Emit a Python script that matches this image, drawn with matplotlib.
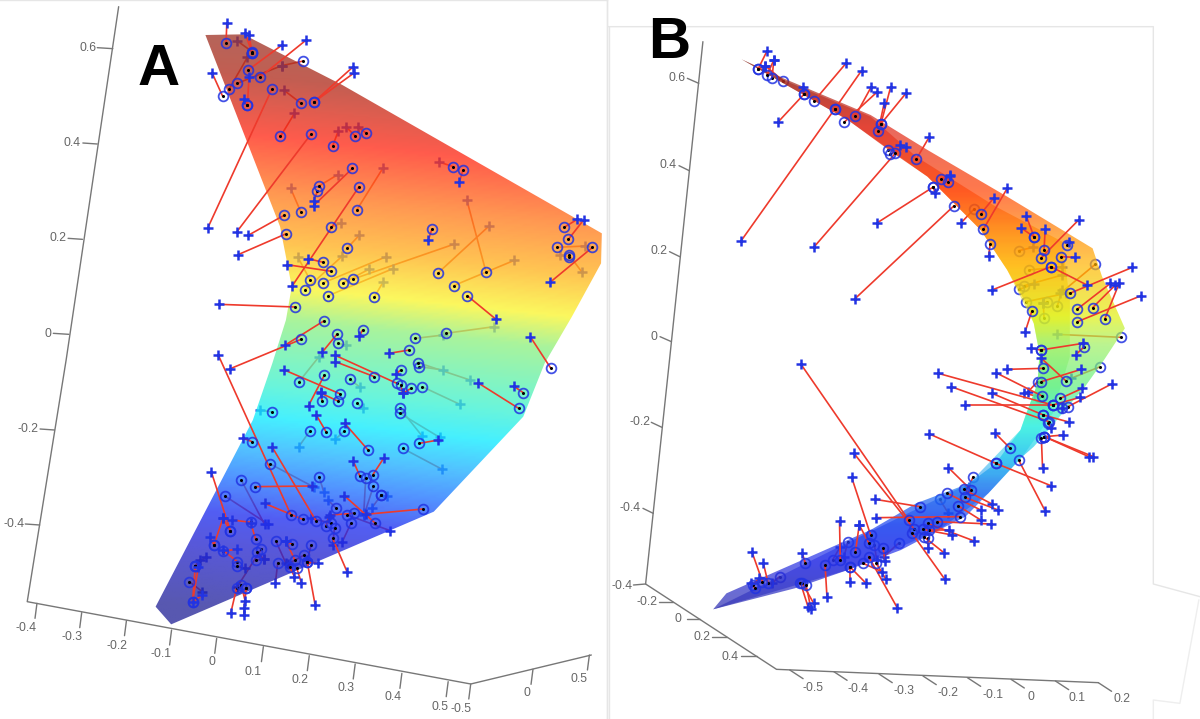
import numpy as np
import matplotlib
matplotlib.use('Agg')
import matplotlib.pyplot as plt
from matplotlib.colors import LinearSegmentedColormap
from matplotlib.patches import Polygon

plt.rcParams['font.family'] = ['Liberation Sans', 'DejaVu Sans']

# units: x 0..1568 across a panel, y 0..2157 down the picture
# every row is circle x, circle y, plus x, plus y
a_front = [(581,130,583,70),(648,158,630,100),(648,158,640,106),(638,210,725,135),(668,232,787,120),
    (572,288,545,218),(636,316,628,298),(636,316,640,230),(699,267,534,684),(806,307,908,200),
    (806,307,911,218),(799,403,609,695),(906,505,806,617),(816,574,806,603),(923,560,751,858),
    (730,646,638,706),(734,702,612,764),(831,787,792,776),(852,814,738,794),(1190,510,1181,545),
    (1110,688,1101,721),(1201,887,1274,957),(759,921,563,913),(832,963,732,1036),(774,1018,590,1107),
    (866,1003,828,1057),(932,990,924,1008),(1052,1050,1000,1060),(1450,682,1484,658),(1461,718,1500,660),
    (1523,742,1415,846),(1416,1105,1363,1010)]
a_behind = [(648,155,609,122),(780,183,724,197),(610,250,724,197),(589,267,636,172),(774,310,729,270),
    (721,409,757,340),(855,438,870,392),(913,408,889,380),(942,400,919,380),(820,558,868,524),
    (917,630,985,503),(773,635,747,565),(851,682,876,670),(892,745,924,705),(797,840,765,770),
    (784,870,880,768),(830,849,993,770),(881,849,948,808),(908,837,1166,733),(842,888,1010,806),
    (962,891,985,846),(1165,500,1129,486),(1125,820,1258,677),(1249,815,1200,600),(1166,857,1322,781),
    (868,1030,890,1035),(1146,1000,1270,980),(1068,1015,1140,1005),(1432,742,1505,738),
    (1463,765,1495,815),(1463,770,1440,765)]
a_front_low = [(748,465,561,-15),(834,45,793,137),(875,102,731,30),(962,50,862,5),(1030,30,1018,42),
    (1020,70,860,-15),(1057,85,1035,100),(1030,75,1035,100),(1333,145,1228,68),(1345,98,1320,78),
    (828,122,825,97),(870,124,826,100),(1078,250,1127,240),(838,215,813,165),(946,270,886,190),
    (648,245,625,235),(812,482,700,262),(778,478,680,430),(655,380,803,378),(592,512,543,335),
    (925,348,908,303),(958,345,986,295),(1087,447,940,463),(965,490,885,407),(910,460,848,465),
    (838,497,845,470),(855,535,892,635),(645,487,597,480),(592,512,573,475),(550,555,573,475),
    (573,573,610,568),(550,555,540,530),(657,538,645,490),(610,605,573,570),(502,617,495,725),
    (495,725,520,705),(495,725,510,620),(608,685,593,760),(620,675,630,722),(632,685,627,765),
    (632,685,628,743),(750,552,735,543),(758,600,735,543),(745,622,757,650),(763,625,775,670),
    (790,607,810,735),(790,607,818,610)]
a_behind_low = [(768,66,820,-10),(899,58,926,82),(1085,80,1182,133),(1078,20,1140,30),(1075,8,1208,60),
    (918,130,932,145),(699,156,668,150),(1028,145,1085,228),(1028,160,1130,232),(1035,265,1135,327),
    (884,214,862,238),(797,212,768,260),(695,312,808,382),(820,350,832,395),(620,360,680,493),
    (578,408,690,493),(960,378,936,465),(980,405,955,445),(980,405,995,408),(940,355,935,460),
    (864,445,843,420),(893,465,1003,512),(902,490,880,545),(852,490,800,475),(860,503,855,555),
    (672,567,610,680),(660,575,678,598),(658,600,678,598),(610,618,630,625),(502,617,530,590),
    (502,617,515,600),(487,665,520,695),(709,543,735,610),(714,608,708,668),(782,585,740,612),
    (800,555,790,600)]

b_front = [(403,208,427,153),(403,208,422,197),(440,235,445,180),(427,225,445,180),(524,283,522,262),
    (524,283,457,365),(551,303,635,190),(606,326,359,722),(606,326,676,212),(660,347,702,260),
    (630,367,718,275),(727,372,753,260),(727,372,793,280),(720,393,736,308),(745,450,778,435),
    (752,462,793,440),(765,460,550,742),(820,478,855,410),(885,537,910,525),(903,547,910,528),
    (865,561,718,668),(865,561,870,580),(920,617,659,896),(997,688,1060,565),(990,642,1025,593),
    (1015,733,1011,767),(1131,711,1110,648),(1131,711,1097,684),(1157,750,1160,688),(1148,775,1248,660),
    (1218,735,1222,725),(1202,770,1238,772),(1175,800,1020,870),(1175,800,1270,855),(1125,933,1107,996),
    (1245,927,1332,850),(1285,923,1345,855),(1317,957,1355,850),(1245,965,1413,887),(1225,880,1390,802),
    (1263,1040,1240,1065),(1148,1050,1260,1030),(1148,1050,1123,1045)]
b_behind = [(470,243,422,197),(972,628,937,670),(1090,752,1128,742),(1292,793,1200,880),(1118,810,1205,800),
    (1105,857,1205,825),(1092,868,1130,852),(1110,905,1215,880),(1165,907,1155,908),(1192,918,1205,870),
    (1157,955,1155,910),(1360,1012,1190,1003)]
b_front_low = [(1155,25,1060,28),(1215,63,1150,-5),(1150,65,1255,28),(1152,108,1030,38),(1180,135,878,40),
    (1180,135,1252,112),(1220,140,1335,72),(1180,135,950,135),(1170,185,912,80),(1155,165,1020,100),
    (1155,165,1222,186),(1200,115,1258,85),(1205,145,1205,145),(1168,190,1175,205),(1158,230,1208,225),
    (1158,230,1275,290),(1158,230,1287,290),(1150,235,1153,323),(1068,265,1027,218),(1090,300,1160,453),
    (1030,310,855,222),(1030,310,1175,377),(965,390,905,323),(945,388,1020,432),(902,400,990,450),
    (948,412,1036,450),(930,437,990,480),(830,440,712,418),(935,470,715,473),(875,485,1016,492),
    (850,490,973,543),(800,480,516,12),(815,508,656,280),(808,518,895,657),(850,535,850,563),
    (840,530,893,578),(855,510,907,510),(837,508,915,525),(700,525,650,352),(695,548,670,495),
    (733,565,738,603),(620,600,618,483),(660,575,670,495),(645,620,645,665),(645,620,688,670),
    (680,610,730,635),(695,590,770,743),(715,610,740,657),(580,615,585,712),(528,610,520,580),
    (515,668,535,740),(520,670,550,730),(530,675,543,748),(430,670,417,608),(415,665,387,575),
    (390,675,405,655),(395,685,385,668)]
b_behind_low = [(1305,20,1228,55),(1140,65,1115,95),(1145,110,1105,100),(970,350,960,380),(882,418,905,460),
    (775,548,735,590),(710,555,716,600),(640,545,630,590),(600,600,620,560),(460,650,440,670)]

a_outline = [(528,105),(625,103),(880,255),(1547,700),(1545,790),(1470,950),(1400,1090),(1345,1250),
    (1115,1535),(440,1873),(400,1820),(650,1260),(700,1090),(735,960),(750,860),(720,680)]
b_outline = [(360,178),(470,235),(700,345),(850,450),(1060,590),(1285,745),(1310,830),(1370,985),(1315,1080),
    (1265,1160),(1220,1220),(1165,1295),(1130,1340),(1095,1375),(1010,1480),(950,1550),(880,1590),
    (780,1650),(640,1710),(500,1765),(285,1828),(320,1780),(600,1640),(700,1590),(820,1510),(960,1450),
    (1030,1390),(1065,1335),(1095,1290),(1110,1240),(1140,1150),(1145,1060),(1130,970),(1110,910),
    (1060,810),(990,690),(850,530),(760,460),(640,360),(470,250)]
b_fold = [(360,178),(470,240),(700,350),(820,470),(1030,620),(1205,725),(1225,900),(1225,1070),(1180,1240),
    (1100,1370),(1010,1480),(880,1590),(640,1710),(285,1828),(600,1650),(960,1450),(1095,1290),(1140,1150),
    (1145,1060),(1130,970),(1060,810),(990,690),(850,530),(640,360)]

a_stops = [(105,'#9c3a2e'),(250,'#b03020'),(430,'#ff2c18'),(600,'#ff7a20'),(750,'#ffb420'),(880,'#fbf630'),
    (980,'#90f080'),(1180,'#40f2d0'),(1280,'#10ecff'),(1380,'#20b0ff'),(1480,'#2070ff'),(1580,'#2030f0'),
    (1680,'#2828d0'),(1873,'#28289a')]
b_stops = [(178,'#8c2a20'),(380,'#e02818'),(570,'#ff4000'),(700,'#ff8800'),(800,'#ffb800'),(950,'#e0f010'),
    (1030,'#a0f060'),(1160,'#60f080'),(1280,'#30f0e0'),(1380,'#20c0f0'),(1480,'#2070f0'),(1580,'#1840f0'),
    (1680,'#2830e8'),(1828,'#2c2cb0')]

a_z_ticks = [(250,290,143,'0.6',225,143),(213,250,429,'0.4',186,430),(175,212,715,'0.2',148,715),
    (137,177,1000,'0',122,1002),(103,140,1287,'-0.2',72,1287),(65,102,1572,'-0.4',35,1571)]
a_x_ticks = [(95,1810,'-0.4',68,1885),(210,1838,'-0.3',185,1912),(325,1862,'-0.2',300,1937),
    (441,1890,'-0.1',415,1962),(557,1915,'0',545,1987),(677,1940,'0.1',650,2015),(795,1967,'0.2',770,2040),
    (913,1992,'0.3',890,2065),(1033,2020,'0.4',1010,2092),(1152,2045,'0.5',1130,2120)]
a_y_ticks = [(1210,2052,'-0.5',1185,2127),(1370,2008,'0',1355,2080),(1515,1965,'0.5',1488,2038)]
b_z_ticks = [(217,247,235,'0.6',190,235),(195,222,497,'0.4',167,495),(170,197,755,'0.2',143,753),
    (145,175,1010,'0',130,1012),(122,150,1267,'-0.2',93,1267),(100,127,1525,'-0.4',67,1525)]
b_y_ticks = [(180,143,1805,'-0.2',110,1807),(250,215,1857,'0',193,1858),(322,283,1910,'0.2',255,1912),
    (400,358,1968,'0.4',330,1970)]
b_x_ticks = [(487,2010,'-0.5',547,2063),(603,2015,'-0.4',667,2068),(722,2022,'-0.3',787,2072),
    (838,2028,'-0.2',905,2080),(955,2033,'-0.1',1022,2085),(1070,2038,'0',1122,2090),(1187,2043,'0.1',1245,2095),
    (1300,2048,'0.2',1362,2098)]

RED = '#ee3a2c'
BLUE = '#2233e2'
GREY = '#777777'
TXT = '#666666'


def shifted(rows):
    return [(a, b + 1080, c, d + 1080) for a, b, c, d in rows]


def draw_pairs(ax, rows, z, lw=1.2, with_circles=False):
    for cx, cy, px, py in rows:
        ax.plot([cx, px], [cy, py], color=RED, lw=lw, zorder=z, solid_capstyle='round')
        ax.plot(px, py, '+', color=BLUE, ms=7, mew=1.8, zorder=z + 0.3)
        if with_circles:
            draw_circle(ax, cx, cy, z + 0.2)


def draw_circle(ax, cx, cy, z):
    ax.plot(cx, cy, 'o', mfc='none', mec=BLUE, ms=7, mew=1.3, alpha=0.85, zorder=z)
    ax.plot(cx, cy, 'o', color='black', ms=1.2, zorder=z)


def surface(ax, outline, stops, tilt, alpha, z):
    ymin, ymax = stops[0][0], stops[-1][0]
    cmap = LinearSegmentedColormap.from_list('surf', [((y - ymin) / (ymax - ymin), c) for y, c in stops])
    xs = np.linspace(0, 1568, 200)
    ys = np.linspace(0, 2157, 400)
    X, Y = np.meshgrid(xs, ys)
    V = Y - tilt * (X - 900)
    im = ax.imshow(V, extent=(0, 1568, 2157, 0), cmap=cmap, vmin=ymin, vmax=ymax, alpha=alpha,
                   aspect='auto', zorder=z, interpolation='bilinear')
    clip = Polygon(outline, closed=True, transform=ax.transData, fc='none', ec='none')
    ax.add_patch(clip)
    im.set_clip_path(clip)


def panel(rect):
    ax = fig.add_axes(rect)
    ax.set_axis_off()
    ax.patch.set_alpha(0)
    ax.set_xlim(0, 1568)
    ax.set_ylim(2157, 0)
    return ax


def axis_line(ax, xs, ys):
    ax.plot(xs, ys, color=GREY, lw=1.0, zorder=1, solid_capstyle='round')


def label(ax, x, y, s):
    ax.text(x, y, s, fontsize=8.8, color=TXT, ha='center', va='center', zorder=1)


fig = plt.figure(figsize=(12, 7.19), dpi=100)

# panel A
ax = panel([0, 0, 610 / 1200, 1])
axis_line(ax, [305, 170, 70, 1210, 1520], [20, 1080, 1805, 2052, 1965])
for x0, x1, y, s, tx, ty in a_z_ticks:
    axis_line(ax, [x0, x1], [y, y + 3])
    label(ax, tx, ty, s)
for x, y, s, tx, ty in a_x_ticks + a_y_ticks:
    axis_line(ax, [x, x - 5], [y, y + 45])
    label(ax, tx, ty, s)
ax.plot([1560, 1560], [0, 2157], color='#e6e6e6', lw=1, zorder=1)
ax.plot([0, 1560], [1, 1], color='#e6e6e6', lw=1, zorder=1)
draw_pairs(ax, a_behind + shifted(a_behind_low), 2)
surface(ax, a_outline, a_stops, 0.12, 0.78, 3)
draw_pairs(ax, a_front + shifted(a_front_low), 4)
for cx, cy, px, py in a_front + shifted(a_front_low) + a_behind + shifted(a_behind_low):
    draw_circle(ax, cx, cy, 4.2)
ax.text(408, 210, 'A', fontsize=42, fontweight='bold', color='black', ha='center', va='center', zorder=6)

# panel B
ax = panel([605 / 1200, 0, 595 / 1200, 1])
ax.plot([10, 1445, 1445, 1568], [80, 80, 1752, 1790], color='#e6e6e6', lw=1, zorder=1)
ax.plot([1565, 1515, 1445, 1445], [1800, 2110, 2100, 2157], color='#eeeeee', lw=1, zorder=1)
ax.plot([10, 10], [80, 2157], color='#e6e6e6', lw=1, zorder=1)
ax.plot([5, 5], [0, 2157], color='#e6e6e6', lw=1, zorder=1)
axis_line(ax, [258, 170, 107, 452, 1300], [125, 1080, 1752, 2008, 2048])
for x0, x1, y, s, tx, ty in b_z_ticks:
    axis_line(ax, [x0, x1], [y, y + 15])
    label(ax, tx, ty, s)
for x, x1, y, s, tx, ty in b_y_ticks:
    axis_line(ax, [x, x1], [y, y])
    label(ax, tx, ty, s)
axis_line(ax, [75, 107], [1755, 1752])
label(ax, 45, 1757, '-0.4')
for x, y, s, tx, ty in b_x_ticks:
    axis_line(ax, [x, x + 35], [y, y + 26])
    label(ax, tx, ty, s)
hidden = b_behind + shifted(b_behind_low)
draw_pairs(ax, hidden, 2, with_circles=True)
surface(ax, b_outline, b_stops, 0.0, 0.7, 3)
surface(ax, b_fold, b_stops, 0.0, 0.55, 3.1)
shown = b_front + shifted(b_front_low)
draw_pairs(ax, shown, 4)
for cx, cy, px, py in shown:
    draw_circle(ax, cx, cy, 4.2)
ax.text(170, 130, 'B', fontsize=42, fontweight='bold', color='black', ha='center', va='center', zorder=6)

fig.savefig('out.png', dpi=100)
